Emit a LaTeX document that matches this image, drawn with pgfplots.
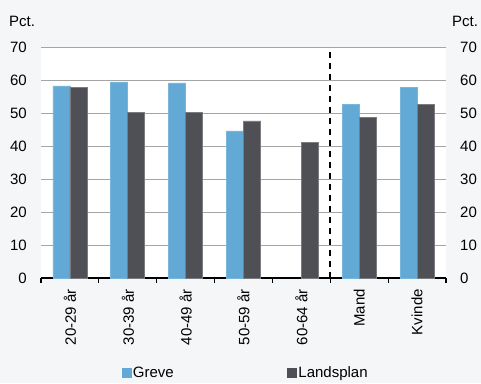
\documentclass[border=0pt]{standalone}
\usepackage{fontspec}
\setmainfont{Liberation Sans}
\usepackage{pgfplots}
\pgfplotsset{compat=1.18}
\definecolor{greve}{HTML}{62A9D6}
\definecolor{lands}{HTML}{4E5056}
\definecolor{bg}{HTML}{F5F6F7}
\definecolor{gridc}{HTML}{A5A5A5}
\begin{document}
\begin{tikzpicture}[font=\fontsize{15}{18}\selectfont]
\fill[bg] (0,0) rectangle (481pt,383pt);
\useasboundingbox (0,0) rectangle (481pt,383pt);
\begin{axis}[
 at={(41pt,105pt)}, anchor=south west,
 scale only axis, width=405pt, height=231pt,
 xmin=-0.5, xmax=6.5, ymin=0, ymax=70,
 axis background/.style={fill=white},
 ybar=0pt, bar width=17pt,
 axis x line*=bottom, axis y line*=left,
 y axis line style={draw=none},
 x axis line style={black, line width=1.3pt, -},
 /pgf/number format/assume math mode=true,
 ytick={0,10,...,70},
 ytick style={draw=none},
 yticklabel style={inner sep=0pt, xshift=-14pt},
 ymajorgrids, grid style={gridc, line width=0.9pt},
 xtick={0,...,6},
 xticklabels={20-29 år,30-39 år,40-49 år,50-59 år,60-64 år,Mand,Kvinde},
 minor xtick={-0.5,0.5,...,6.5},
 tick align=outside, major tick length=0pt, minor tick length=4.5pt,
 xtick style={black, line width=1.2pt},
 xticklabel style={rotate=90, anchor=east, inner sep=0pt, xshift=-11pt},
 legend columns=2,
 legend style={draw=none, fill=none, at={(0.505,-0.411)}, anchor=center,
   /tikz/every even column/.append style={column sep=112pt},
   nodes={inner xsep=1.5pt, inner ysep=0pt}},
]
\addplot[fill=greve, draw=greve!85!white, line width=0.6pt,
  legend image code/.code={\fill[greve] (0pt,-4.5pt) rectangle (9pt,4.5pt);}]
 coordinates {(0,58.2) (1,59.4) (2,59.1) (3,44.6) (5,52.6) (6,57.7)};
\addlegendentry{Greve}
\addplot[fill=lands, draw=lands!75!white, line width=0.6pt,
  legend image code/.code={\fill[lands] (0pt,-4.5pt) rectangle (9pt,4.5pt);}]
 coordinates {(0,57.8) (1,50.2) (2,50.1) (3,47.6) (4,41.1) (5,48.6) (6,52.5)};
\addlegendentry{Landsplan}
\draw[black, line width=1.8pt, dash pattern=on 6pt off 5pt] (axis cs:4.5,0) -- (axis cs:4.5,70);
\end{axis}
\begin{axis}[
 at={(41pt,105pt)}, anchor=south west,
 scale only axis, width=405pt, height=231pt,
 xmin=-0.5, xmax=6.5, ymin=0, ymax=70,
 hide x axis, axis y line*=right,
 y axis line style={draw=none},
 /pgf/number format/assume math mode=true,
 ytick={0,10,...,70},
 ytick style={draw=none},
 yticklabel style={inner sep=0pt, xshift=14pt},
]
\addplot[draw=none] coordinates {(0,0)};
\end{axis}
\node[anchor=west, inner sep=0pt] at (9pt,362pt) {Pct.};
\node[anchor=west, inner sep=0pt] at (452pt,362pt) {Pct.};
\end{tikzpicture}
\end{document}
